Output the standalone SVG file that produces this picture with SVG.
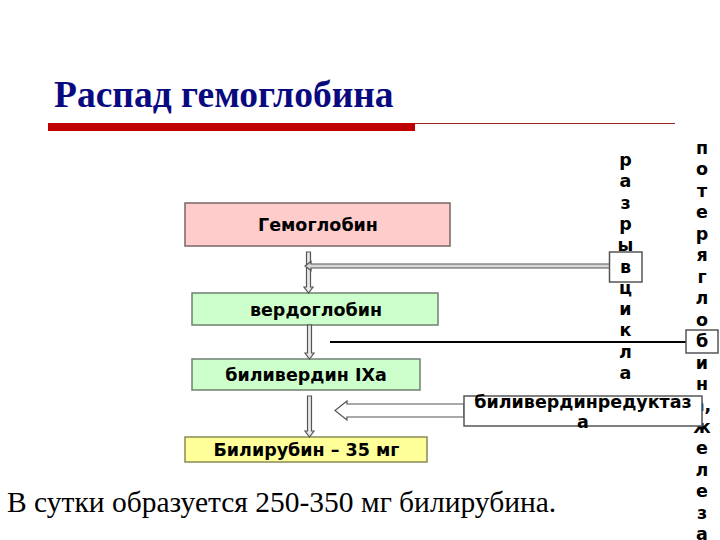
<svg xmlns="http://www.w3.org/2000/svg" width="720" height="540" viewBox="0 0 720 540">
<style>
.lbl{font-family:"DejaVu Sans",Verdana,sans-serif;font-weight:bold;font-size:17.5px;fill:#000;text-anchor:middle}
.col{font-family:"DejaVu Sans",Verdana,sans-serif;font-weight:bold;font-size:17.5px;fill:#000;text-anchor:middle}
.arr{fill:#e8e8e8;stroke:#555;stroke-width:1.2}
.harr{fill:#fff;stroke:#555;stroke-width:1.2}
.wbox{fill:#fff;stroke:#555;stroke-width:1.5}
</style>
<rect width="720" height="540" fill="#fff"/>
<g id="title">
<text x="54" y="107" font-family="'Liberation Serif','Times New Roman',serif" font-weight="bold" font-size="37.5" fill="#0a0a80">Распад гемоглобина</text>
<rect x="48" y="123" width="367" height="8" fill="#c00000"/>
<line x1="415" y1="123.5" x2="675" y2="123.5" stroke="#a02020" stroke-width="1"/>
</g>
<g id="hemoglobin">
<rect x="185" y="203" width="265" height="43" fill="#ffcccc" stroke="#7a6666" stroke-width="1.5"/>
<text class="lbl" x="318" y="231">Гемоглобин</text>
</g>
<g id="verdoglobin">
<rect x="192" y="293" width="246" height="32" fill="#ccffcc" stroke="#6f806f" stroke-width="1.5"/>
<text class="lbl" x="316" y="315.5">вердоглобин</text>
</g>
<g id="biliverdin">
<rect x="192" y="359" width="228" height="31" fill="#ccffcc" stroke="#6f806f" stroke-width="1.5"/>
<text class="lbl" x="306" y="381">биливердин IXa</text>
</g>
<g id="bilirubin">
<rect x="185" y="437" width="242" height="25" fill="#ffff99" stroke="#8a8a55" stroke-width="1.5"/>
<text class="lbl" x="306.5" y="456">Билирубин – 35 мг</text>
</g>
<g id="connectors">
<path class="arr" d="M306.5,252 L310.5,252 L310.5,287 L313,287 L308.5,293 L304,287 L306.5,287 Z"/>
<path class="harr" style="fill:#d8d8d8" d="M610,264 L311,264 L311,261.5 L305,266 L311,270.5 L311,268 L610,268 Z"/>
<path class="arr" d="M307.5,325 L311.5,325 L311.5,353 L314,353 L309.5,359 L305,353 L307.5,353 Z"/>
<path class="arr" d="M307.5,396 L311.5,396 L311.5,431 L314,431 L309.5,437 L305,431 L307.5,431 Z"/>
<line x1="330" y1="342" x2="686" y2="342" stroke="#000" stroke-width="2.2"/>
<path class="harr" d="M464,404 L347,404 L347,401 L335,410.5 L347,420 L347,417 L464,417 Z"/>
</g>
<g id="rupture">
<rect class="wbox" x="609.5" y="252" width="32.5" height="30"/>
<text class="col" x="625.5"><tspan x="625.5" y="166">р</tspan><tspan x="625.5" dy="21.3">а</tspan><tspan x="625.5" dy="21.3">з</tspan><tspan x="625.5" dy="21.3">р</tspan><tspan x="625.5" dy="21.3">ы</tspan><tspan x="625.5" dy="21.3">в</tspan><tspan x="625.5" dy="21.3">ц</tspan><tspan x="625.5" dy="21.3">и</tspan><tspan x="625.5" dy="21.3">к</tspan><tspan x="625.5" dy="21.3">л</tspan><tspan x="625.5" dy="21.3">а</tspan></text>
</g>
<g id="loss">
<rect class="wbox" x="686" y="330" width="32" height="23"/>
<text class="col" x="702"><tspan x="702" y="154">п</tspan><tspan x="702" dy="21.45">о</tspan><tspan x="702" dy="21.45">т</tspan><tspan x="702" dy="21.45">е</tspan><tspan x="702" dy="21.45">р</tspan><tspan x="702" dy="21.45">я</tspan><tspan x="702" dy="21.45">г</tspan><tspan x="702" dy="21.45">л</tspan><tspan x="702" dy="21.45">о</tspan><tspan x="702" dy="21.45">б</tspan><tspan x="702" dy="21.45">и</tspan><tspan x="702" dy="21.45">н</tspan><tspan x="702" dy="21.45">а,</tspan><tspan x="702" dy="21.45">ж</tspan><tspan x="702" dy="21.45">е</tspan><tspan x="702" dy="21.45">л</tspan><tspan x="702" dy="21.45">е</tspan><tspan x="702" dy="21.45">з</tspan><tspan x="702" dy="21.45">а</tspan></text>
</g>
<g id="reductase">
<rect class="wbox" x="464" y="396" width="238" height="30"/>
<text class="lbl"><tspan x="583" y="408">биливердинредуктаз</tspan><tspan x="583" y="428">а</tspan></text>
</g>
<g id="note">
<text x="7" y="512" font-family="'Liberation Serif','Times New Roman',serif" font-size="29.5" fill="#000">В сутки образуется 250-350 мг билирубина.</text>
</g>
</svg>
